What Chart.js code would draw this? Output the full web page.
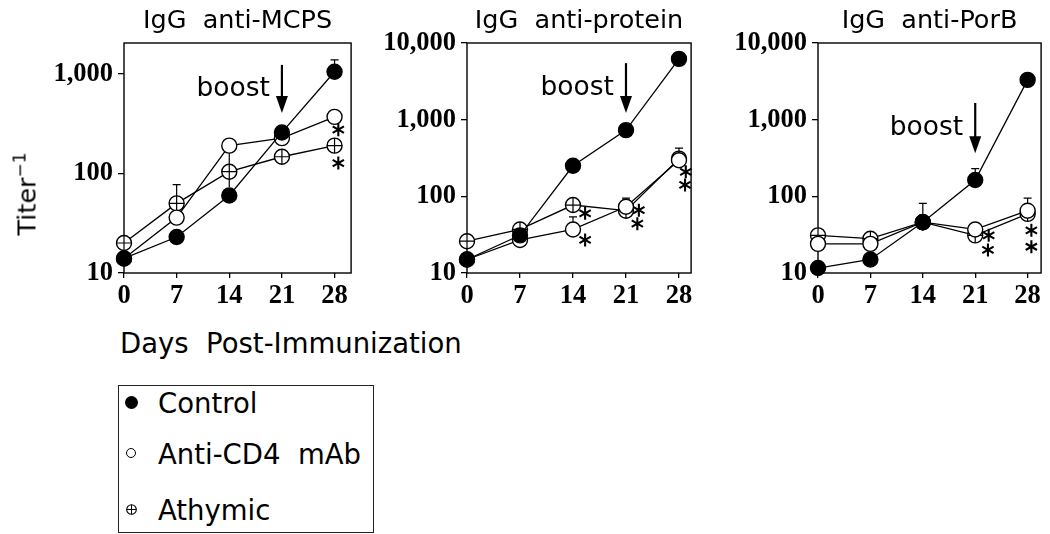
<!DOCTYPE html>
<html><head><meta charset="utf-8">
<script src="https://cdn.jsdelivr.net/npm/chart.js@4.4.0/dist/chart.umd.min.js"></script>
<style>
body{margin:0;background:#fff;width:1050px;height:534px;overflow:hidden;position:relative;font-family:"DejaVu Sans",sans-serif;color:#000;}
canvas{position:absolute;top:0;}
#xlabel{position:absolute;left:120px;top:326px;font-size:27.5px;white-space:pre;line-height:34px;}
#ylabel{position:absolute;left:23px;top:194px;font-size:25.5px;white-space:nowrap;transform:translate(-50%,-50%) rotate(-90deg);line-height:30px;}
#ylabel sup{font-size:17px;vertical-align:10px;}
#legend{position:absolute;left:118px;top:385px;width:256px;height:148px;box-sizing:border-box;border:1.3px solid #222;}
.item{position:absolute;left:39px;font-size:27.5px;white-space:pre;line-height:34px;}
.mk{position:absolute;left:7px;width:10px;height:10px;border-radius:50%;box-sizing:border-box;}
</style></head>
<body>
<canvas id="c1" width="360" height="310" style="left:0px"></canvas>
<canvas id="c2" width="340" height="310" style="left:360px"></canvas>
<canvas id="c3" width="350" height="310" style="left:700px"></canvas>
<div id="ylabel">Titer<sup>−1</sup></div>
<div id="xlabel">Days  Post-Immunization</div>
<div id="legend">
  <div class="mk" style="top:10px;left:6px;width:13px;height:13px;background:#000;"></div>
  <div class="item" style="top:0px">Control</div>
  <div class="mk" style="top:62px;border:1.2px solid #000;"></div>
  <div class="item" style="top:51px">Anti-CD4  mAb</div>
  <svg style="position:absolute;left:7px;top:118px" width="11" height="11" viewBox="0 0 11 11"><circle cx="5.5" cy="5.5" r="4.8" fill="#fff" stroke="#000" stroke-width="1.1"/><line x1="0.7" y1="5.5" x2="10.3" y2="5.5" stroke="#000" stroke-width="1"/><line x1="5.5" y1="0.7" x2="5.5" y2="10.3" stroke="#000" stroke-width="1"/></svg>
  <div class="item" style="top:107px">Athymic</div>
</div>
<script>
// ---------- data ----------
const days = [0, 7, 14, 21, 28];
const xTickValues = [0, 7, 14, 21, 28];
const yTickValues = [10, 100, 1000, 10000];
const seriesNames = ['Control', 'Anti-CD4  mAb', 'Athymic'];
const panelTitles = ['IgG  anti-MCPS', 'IgG  anti-protein', 'IgG  anti-PorB'];

// IgG anti-MCPS
const mcpsControl = [14, 23, 60, 258, 1050];
const mcpsAntiCD4 = [14, 36, 190, 226, 370];
const mcpsAthymic = [20, 50, 104, 147, 190];
const mcpsControlErrHigh = [null, null, null, null, 1380];
const mcpsAthymicErrHigh = [null, 77, null, null, null];
const mcpsAntiCD4ErrLow = [null, null, 73, null, null];
const mcpsStars = [[28.5, 275], [28.5, 127]];
const mcpsBoost = [1230, 405];

// IgG anti-protein
const proteinControl = [15, 31, 250, 730, 6200];
const proteinAntiCD4 = [15, 27, 37, 73, 295];
const proteinAthymic = [26, 37, 77, 65, 310];
const proteinAntiCD4ErrHigh = [null, null, 54, 95, 425];
const proteinStars = [[15.6, 60], [15.6, 27], [22.7, 66], [22.5, 44], [28.9, 209], [28.8, 141]];
const proteinBoost = [5460, 1220];

// IgG anti-PorB
const porbControl = [11.6, 15, 46, 163, 3300];
const porbAntiCD4 = [24, 24, 46, 37, 65];
const porbAthymic = [31, 28, 46, 31, 59];
const porbControlErrHigh = [null, null, 81, 230, null];
const porbAthymicErrHigh = [null, null, null, null, 95];
const porbStars = [[22.8, 31], [22.7, 20], [28.5, 36], [28.5, 22]];
const porbBoost = [1650, 365];

const boostDay = 21;

function ds(label, data, kind){
  return {label, kind, data: days.map((d,i)=>({x:d, y:data[i]})), borderColor:'#000', borderWidth:1.3,
    pointBorderColor:'#000', pointBorderWidth:1.4, pointRadius:7.5, pointHoverRadius:7.5, clip:false, tension:0, fill:false,
    pointStyle:'circle', pointBackgroundColor: kind === 'filled' ? '#000' : '#fff'};
}

function drawStar(ctx, cx, cy, r){
  ctx.beginPath();
  for (let k = 0; k < 3; k++){
    const a = Math.PI/2 + k*Math.PI/3;
    ctx.moveTo(cx - r*Math.cos(a), cy - r*Math.sin(a));
    ctx.lineTo(cx + r*Math.cos(a), cy + r*Math.sin(a));
  }
  ctx.stroke();
}

const decor = {
  id: 'decor',
  beforeDatasetsDraw(chart, args, o){
    const {ctx, chartArea:a, scales:{x, y}} = chart;
    ctx.save();
    ctx.strokeStyle = '#000';
    ctx.lineWidth = 1.4;
    ctx.strokeRect(a.left, a.top, a.right - a.left, a.bottom - a.top);
    ctx.lineWidth = 1.2;
    (o.errors || []).forEach(e => {
      e.bound.forEach((v, i) => {
        if (v == null) return;
        const px = x.getPixelForValue(days[i]);
        const p0 = y.getPixelForValue(e.values[i]);
        const p1 = y.getPixelForValue(v);
        ctx.beginPath(); ctx.moveTo(px, p0); ctx.lineTo(px, p1);
        if (e.cap) { ctx.moveTo(px - 4, p1); ctx.lineTo(px + 4, p1); }
        ctx.stroke();
      });
    });
    ctx.restore();
  },
  afterDatasetDraw(chart, args){
    const d = chart.data.datasets[args.index];
    if (d.kind !== 'cross') return;
    const ctx = chart.ctx;
    ctx.save();
    ctx.strokeStyle = '#000'; ctx.lineWidth = 1.2;
    args.meta.data.forEach(p => {
      const r = 7.5;
      ctx.beginPath();
      ctx.moveTo(p.x - r, p.y); ctx.lineTo(p.x + r, p.y);
      ctx.moveTo(p.x, p.y - r); ctx.lineTo(p.x, p.y + r);
      ctx.stroke();
    });
    ctx.restore();
  },
  afterDraw(chart, args, o){
    const {ctx, chartArea:a, scales:{x, y}} = chart;
    ctx.save();
    ctx.fillStyle = '#000';
    ctx.font = '25.5px "DejaVu Sans"';
    ctx.textAlign = 'center'; ctx.textBaseline = 'alphabetic';
    ctx.fillText(o.title, (a.left + a.right)/2, 28);
    ctx.strokeStyle = '#000'; ctx.lineWidth = 2.1; ctx.lineCap = 'butt';
    (o.stars || []).forEach(s => drawStar(ctx, x.getPixelForValue(s[0]), y.getPixelForValue(s[1]), 6.5));
    const bx = x.getPixelForValue(boostDay);
    const top = y.getPixelForValue(o.boost[0]);
    const bot = y.getPixelForValue(o.boost[1]);
    ctx.lineWidth = 2.2;
    ctx.beginPath(); ctx.moveTo(bx, top); ctx.lineTo(bx, bot - 14); ctx.stroke();
    ctx.beginPath(); ctx.moveTo(bx - 6, bot - 17); ctx.lineTo(bx + 6, bot - 17); ctx.lineTo(bx, bot); ctx.closePath(); ctx.fill();
    ctx.font = '26.5px "DejaVu Sans"';
    ctx.textAlign = 'right';
    ctx.fillText('boost', bx - 12, (top + bot)/2 + 7);
    ctx.restore();
  }
};

function makeChart(id, title, c, o, at, xmax, ymax, yw, rightPad, extras){
  const tickFont = {family:'"Liberation Serif"', weight:'bold', size:26.5};
  return new Chart(document.getElementById(id), {
    type: 'line',
    data: { datasets: [ds(seriesNames[0], c, 'filled'), ds(seriesNames[1], o, 'open'), ds(seriesNames[2], at, 'cross')] },
    options: {
      responsive: false, animation: false, devicePixelRatio: 1,
      layout: { padding: { top: 43, right: rightPad, left: 0, bottom: 0 } },
      plugins: { legend: {display:false}, tooltip: {enabled:false}, title: {display:false},
        decor: Object.assign({title}, extras) },
      scales: {
        x: { type:'linear', min:0, max:xmax,
          afterBuildTicks: s => { s.ticks = xTickValues.map(v => ({value:v})); },
          afterFit: s => { s.height = 37; },
          border: {display:false},
          grid: {display:true, drawOnChartArea:false, drawTicks:true, tickLength:5, color:'#000', lineWidth:1.3},
          ticks: {color:'#000', font:tickFont, padding:2, maxRotation:0, autoSkip:false, callback: v => String(v)} },
        y: { type:'logarithmic', min:10, max:ymax,
          afterBuildTicks: s => { s.ticks = yTickValues.filter(v => v <= ymax).map(v => ({value:v})); },
          afterFit: s => { s.width = yw; },
          border: {display:false},
          grid: {display:true, drawOnChartArea:false, drawTicks:true, tickLength:6, color:'#000', lineWidth:1.3},
          ticks: {color:'#000', font:tickFont, padding:5, autoSkip:false, callback: v => Number(v).toLocaleString('en-US')} }
      }
    },
    plugins: [decor]
  });
}

makeChart('c1', panelTitles[0], mcpsControl, mcpsAntiCD4, mcpsAthymic, 30.2, 2040, 124, 4, {
  errors: [ {values: mcpsControl, bound: mcpsControlErrHigh, cap:true},
            {values: mcpsAthymic, bound: mcpsAthymicErrHigh, cap:true},
            {values: mcpsAntiCD4, bound: mcpsAntiCD4ErrLow, cap:false} ],
  stars: mcpsStars, boost: mcpsBoost });
makeChart('c2', panelTitles[1], proteinControl, proteinAntiCD4, proteinAthymic, 29.6, 10000, 107, 5, {
  errors: [ {values: proteinAntiCD4, bound: proteinAntiCD4ErrHigh, cap:true} ],
  stars: proteinStars, boost: proteinBoost });
makeChart('c3', panelTitles[2], porbControl, porbAntiCD4, porbAthymic, 29.8, 10000, 118, 2, {
  errors: [ {values: porbControl, bound: porbControlErrHigh, cap:true},
            {values: porbAthymic, bound: porbAthymicErrHigh, cap:true} ],
  stars: porbStars, boost: porbBoost });
</script>
</body></html>
